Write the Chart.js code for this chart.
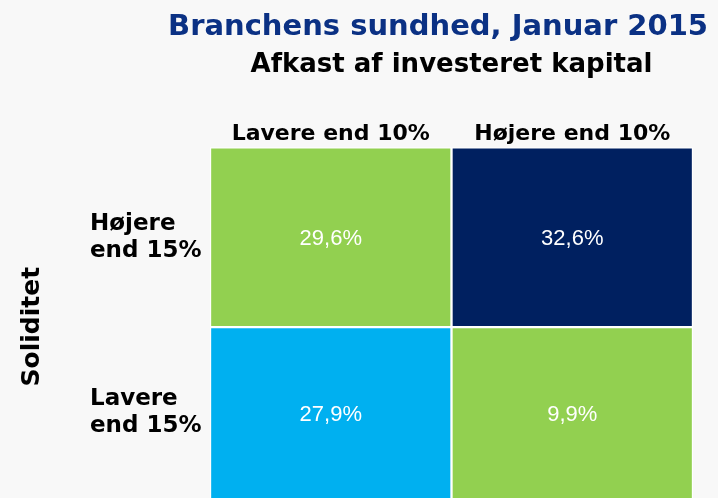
<!DOCTYPE html>
<html lang="da">
<head>
<meta charset="utf-8">
<title>Branchens sundhed, Januar 2015</title>
<script src="https://cdn.jsdelivr.net/npm/chart.js@4.4.1/dist/chart.umd.min.js"></script>
<style>
    html, body { margin: 0; padding: 0; background: #f8f8f8; overflow: hidden; }
    .chart-wrap { position: relative; width: 718px; height: 498px; }
</style>
</head>
<body>
<div class="chart-wrap"><canvas id="matrix-chart"></canvas></div>
<script>
const chartTitle = 'Branchens sundhed, Januar 2015';
const chartSubtitle = 'Afkast af investeret kapital';
const rowAxisTitle = 'Soliditet';

const columnLabels = ['Lavere end 10%', 'Højere end 10%'];
// nederste række først
const rowLabels = [['Lavere', 'end 15%'], ['Højere', 'end 15%']];

// andel i hver celle (%)
const lowerRowShares = [27.9, 9.9];
const upperRowShares = [29.6, 32.6];

const lowerRowColors = ['#00b0f0', '#92d050'];
const upperRowColors = ['#92d050', '#002060'];

// alle celler er lige store
const cellSize = [1, 1];

const boldFont = '"DejaVu Sans", Verdana, sans-serif';

function formatShare(value) {
    return value.toFixed(1).replace('.', ',') + '%';
}

const cellLabels = {
    id: 'cellLabels',
    afterDatasetsDraw(chart) {
        const ctx = chart.ctx;
        const area = chart.chartArea;
        ctx.save();
        ctx.font = '22px "Liberation Sans", Arial, sans-serif';
        ctx.fillStyle = '#ffffff';
        ctx.textAlign = 'center';
        ctx.textBaseline = 'middle';
        chart.data.datasets.forEach((dataset, i) => {
            chart.getDatasetMeta(i).data.forEach((bar, j) => {
                const top = Math.max(bar.y, area.top);
                const bottom = Math.min(bar.base, area.bottom);
                ctx.fillText(formatShare(dataset.shares[j]), bar.x, (top + bottom) / 2 + 2);
            });
        });
        ctx.restore();
    }
};

const headerText = {
    id: 'headerText',
    afterDraw(chart) {
        const ctx = chart.ctx;
        const area = chart.chartArea;
        ctx.save();
        ctx.textBaseline = 'alphabetic';

        ctx.fillStyle = '#0b3184';
        ctx.font = 'bold 29px ' + boldFont;
        ctx.textAlign = 'right';
        ctx.fillText(chartTitle, chart.width - 10, 35);

        ctx.fillStyle = '#000000';
        ctx.font = 'bold 26px ' + boldFont;
        ctx.textAlign = 'center';
        ctx.fillText(chartSubtitle, (area.left + area.right) / 2, 72);

        ctx.font = 'bold 25px ' + boldFont;
        ctx.translate(39, (area.top + area.bottom) / 2 + 4);
        ctx.rotate(-Math.PI / 2);
        ctx.fillText(rowAxisTitle, 0, 0);
        ctx.restore();
    }
};

new Chart(document.getElementById('matrix-chart'), {
    type: 'bar',
    data: {
        labels: columnLabels,
        datasets: [
            {
                label: 'Lavere end 15%',
                data: cellSize,
                shares: lowerRowShares,
                backgroundColor: lowerRowColors
            },
            {
                label: 'Højere end 15%',
                data: cellSize,
                shares: upperRowShares,
                backgroundColor: upperRowColors
            }
        ]
    },
    options: {
        responsive: true,
        maintainAspectRatio: false,
        animation: false,
        layout: {
            padding: {top: 121, left: 90, right: 25, bottom: 0}
        },
        datasets: {
            bar: {
                categoryPercentage: 1,
                barPercentage: 1,
                borderWidth: 1.5,
                borderColor: '#ffffff',
                borderSkipped: false
            }
        },
        plugins: {
            legend: {display: false},
            tooltip: {enabled: false},
            title: {display: false}
        },
        scales: {
            x: {
                position: 'top',
                stacked: true,
                grid: {display: false, drawTicks: false},
                border: {display: false},
                ticks: {
                    padding: 0,
                    color: '#000000',
                    font: {family: boldFont, weight: 'bold', size: 22}
                }
            },
            y: {
                stacked: true,
                min: 0.05,
                max: 2,
                grid: {display: false, drawTicks: false},
                border: {display: false},
                afterFit(scale) {
                    scale.width = 120;
                    scale.paddingTop = 0;
                    scale.paddingBottom = 0;
                },
                afterBuildTicks(scale) {
                    scale.ticks = [{value: (scale.min + 1) / 2}, {value: (1 + scale.max) / 2}];
                },
                ticks: {
                    crossAlign: 'far',
                    color: '#000000',
                    font: {family: boldFont, weight: 'bold', size: 23, lineHeight: 1.17},
                    callback: (value, index) => rowLabels[index]
                }
            }
        }
    },
    plugins: [cellLabels, headerText]
});
</script>
</body>
</html>
